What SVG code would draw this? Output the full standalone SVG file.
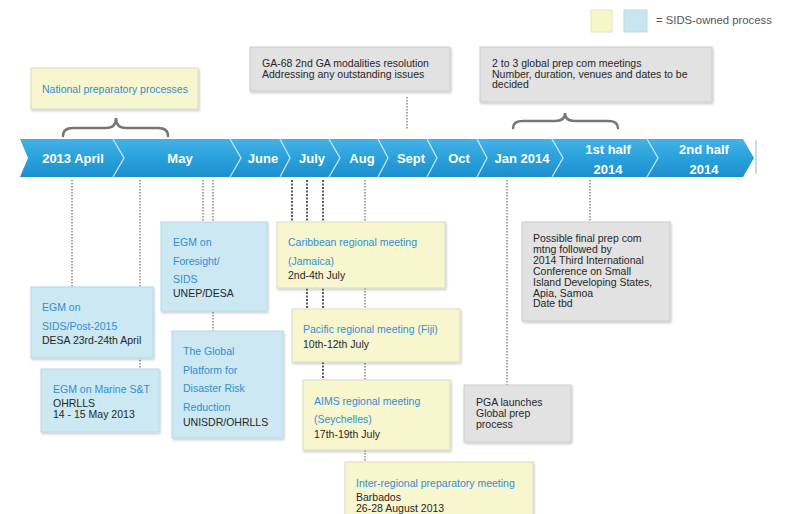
<svg xmlns="http://www.w3.org/2000/svg" width="785" height="514" viewBox="0 0 785 514">
<defs>
<linearGradient id="barg" x1="0" y1="0" x2="0" y2="1">
<stop offset="0" stop-color="#44b2e6"/>
<stop offset="0.5" stop-color="#2aa1dc"/>
<stop offset="1" stop-color="#1c8fcc"/>
</linearGradient>
<filter id="sh" x="-10%" y="-10%" width="130%" height="130%">
<feDropShadow dx="1" dy="1.5" stdDeviation="1.2" flood-color="#000" flood-opacity="0.22"/>
</filter>
</defs>
<style>
.yel{fill:#f8f6cf;stroke:#dcdcc0;stroke-width:1;filter:url(#sh)}
.blu{fill:#cce8f3;stroke:#b9d8e6;stroke-width:1;filter:url(#sh)}
.gry{fill:#e2e2e2;stroke:#cdcdcd;stroke-width:1;filter:url(#sh)}
.bt{font-family:"Liberation Sans",Arial,sans-serif;font-size:10.5px;fill:#2f8ed3}
.dt{font-family:"Liberation Sans",Arial,sans-serif;font-size:10.5px;fill:#262626}
.lg{font-family:"Liberation Sans",Arial,sans-serif;font-size:11.3px;fill:#555}
.mo{font-family:"Liberation Sans",Arial,sans-serif;font-size:13px;font-weight:bold;fill:#ffffff;text-anchor:middle}
.dot{stroke:#4a4a4a;stroke-width:1;stroke-dasharray:1.5 1.5;fill:none}
.dotb{stroke:#333;stroke-width:1.6;stroke-dasharray:2 1.5;fill:none}
.sep{stroke:#dff1fb;stroke-width:1.3;fill:none;opacity:0.85}
.brace{stroke:#777;stroke-width:2.5;fill:none;stroke-linecap:round}
</style>

<g id="legend">
<rect x="591" y="10" width="21" height="22" fill="#f6f6c8" stroke="#e4e4c8"/>
<rect x="624" y="10" width="23" height="22" fill="#c8e6f1" stroke="#c0dbe6"/>
<text class="lg" x="656" y="23.5">= SIDS-owned process</text>
</g>

<g id="connectors">
<line class="dot" x1="407" y1="97" x2="407" y2="129"/>
<line class="dot" x1="72" y1="180" x2="72" y2="287"/>
<line class="dot" x1="140" y1="180" x2="140" y2="369"/>
<line class="dot" x1="203" y1="180" x2="203" y2="222"/>
<line class="dot" x1="213" y1="180" x2="213" y2="331"/>
<line class="dotb" x1="292" y1="180" x2="292" y2="222"/>
<line class="dotb" x1="307" y1="180" x2="307" y2="309"/>
<line class="dotb" x1="323" y1="180" x2="323" y2="380"/>
<line class="dot" x1="365" y1="180" x2="365" y2="462"/>
<line class="dot" x1="507" y1="180" x2="507" y2="385"/>
<line class="dot" x1="590" y1="180" x2="590" y2="222"/>
</g>

<g id="braces">
<path class="brace" d="M63,136 Q63,128 73,128 L106,128 Q116,128 116,118 Q116,128 126,128 L158,128 Q168,128 168,136"/>
<path class="brace" d="M513,128 Q513,121 523,121 L555,121 Q565,121 565,113 Q565,121 575,121 L608,121 Q618,121 618,128"/>
</g>

<g id="timeline">
<polygon points="20,139 743,139 754,158 743,177 20,177 28,158" fill="url(#barg)"/>
<polyline class="sep" points="113,139 124,158 113,177"/>
<polyline class="sep" points="230,139 241,158 230,177"/>
<polyline class="sep" points="280,139 290,158 280,177"/>
<polyline class="sep" points="329,139 340,158 329,177"/>
<polyline class="sep" points="378,139 388,158 378,177"/>
<polyline class="sep" points="427,139 437,158 427,177"/>
<polyline class="sep" points="477,139 487,158 477,177"/>
<polyline class="sep" points="552,139 563,158 552,177"/>
<polyline class="sep" points="647,139 658,158 647,177"/>
<line x1="756" y1="140" x2="756" y2="174" stroke="#8fb8cf" stroke-width="1"/>
<text class="mo" x="73" y="163">2013 April</text>
<text class="mo" x="180" y="163">May</text>
<text class="mo" x="263" y="163">June</text>
<text class="mo" x="312" y="163">July</text>
<text class="mo" x="362" y="163">Aug</text>
<text class="mo" x="411" y="163">Sept</text>
<text class="mo" x="459" y="163">Oct</text>
<text class="mo" x="522" y="163">Jan 2014</text>
<text class="mo" x="608" y="153.5">1st half</text>
<text class="mo" x="608" y="173.5">2014</text>
<text class="mo" x="704" y="153.5">2nd half</text>
<text class="mo" x="704" y="173.5">2014</text>
</g>

<g id="national">
<rect class="yel" x="31" y="68" width="167" height="41"/>
<text class="bt" x="42" y="93">National preparatory processes</text>
</g>

<g id="ga68">
<rect class="gry" x="250" y="47" width="200" height="44"/>
<text class="dt" x="262" y="67">GA-68 2nd GA modalities resolution</text>
<text class="dt" x="262" y="77.5">Addressing any outstanding issues</text>
</g>

<g id="globalprepcom">
<rect class="gry" x="480" y="47" width="232" height="55"/>
<text class="dt" x="492" y="67">2 to 3 global prep com meetings</text>
<text class="dt" x="492" y="77.5">Number, duration, venues and dates to be</text>
<text class="dt" x="492" y="88">decided</text>
</g>

<g id="egm-sids">
<rect class="blu" x="31" y="287" width="122" height="71"/>
<text class="bt" x="42" y="311">EGM on</text>
<text class="bt" x="42" y="330">SIDS/Post-2015</text>
<text class="dt" x="42" y="344">DESA 23rd-24th April</text>
</g>

<g id="egm-marine">
<rect class="blu" x="41" y="369" width="118" height="63"/>
<text class="bt" x="53" y="393">EGM on Marine S&amp;T</text>
<text class="dt" x="53" y="407">OHRLLS</text>
<text class="dt" x="53" y="418">14 - 15 May 2013</text>
</g>

<g id="egm-foresight">
<rect class="blu" x="161" y="222" width="106" height="89"/>
<text class="bt" x="173" y="246">EGM on</text>
<text class="bt" x="173" y="265">Foresight/</text>
<text class="bt" x="173" y="283">SIDS</text>
<text class="dt" x="173" y="297">UNEP/DESA</text>
</g>

<g id="global-platform">
<rect class="blu" x="172" y="331" width="111" height="107"/>
<text class="bt" x="183" y="355">The Global</text>
<text class="bt" x="183" y="374">Platform for</text>
<text class="bt" x="183" y="392">Disaster Risk</text>
<text class="bt" x="183" y="411">Reduction</text>
<text class="dt" x="183" y="426">UNISDR/OHRLLS</text>
</g>

<g id="caribbean">
<rect class="yel" x="277" y="222" width="168" height="66"/>
<text class="bt" x="288" y="246">Caribbean regional meeting</text>
<text class="bt" x="288" y="265">(Jamaica)</text>
<text class="dt" x="288" y="279">2nd-4th July</text>
</g>

<g id="pacific">
<rect class="yel" x="292" y="309" width="168" height="53"/>
<text class="bt" x="303" y="333">Pacific regional meeting (Fiji)</text>
<text class="dt" x="303" y="348">10th-12th July</text>
</g>

<g id="aims">
<rect class="yel" x="303" y="380" width="147" height="70"/>
<text class="bt" x="314" y="405">AIMS regional meeting</text>
<text class="bt" x="314" y="423">(Seychelles)</text>
<text class="dt" x="314" y="438">17th-19th July</text>
</g>

<g id="inter-regional">
<rect class="yel" x="345" y="462" width="188" height="60"/>
<text class="bt" x="356" y="487">Inter-regional preparatory meeting</text>
<text class="dt" x="356" y="501">Barbados</text>
<text class="dt" x="356" y="512">26-28 August 2013</text>
</g>

<g id="pga">
<rect class="gry" x="464" y="385" width="107" height="57"/>
<text class="dt" x="476" y="406">PGA launches</text>
<text class="dt" x="476" y="417">Global prep</text>
<text class="dt" x="476" y="428">process</text>
</g>

<g id="final-prepcom">
<rect class="gry" x="522" y="222" width="148" height="99"/>
<text class="dt" x="533" y="242">Possible final prep com</text>
<text class="dt" x="533" y="252.9">mtng followed by</text>
<text class="dt" x="533" y="263.8">2014 Third International</text>
<text class="dt" x="533" y="274.7">Conference on Small</text>
<text class="dt" x="533" y="285.6">Island Developing States,</text>
<text class="dt" x="533" y="296.5">Apia, Samoa</text>
<text class="dt" x="533" y="307.4">Date tbd</text>
</g>
</svg>
